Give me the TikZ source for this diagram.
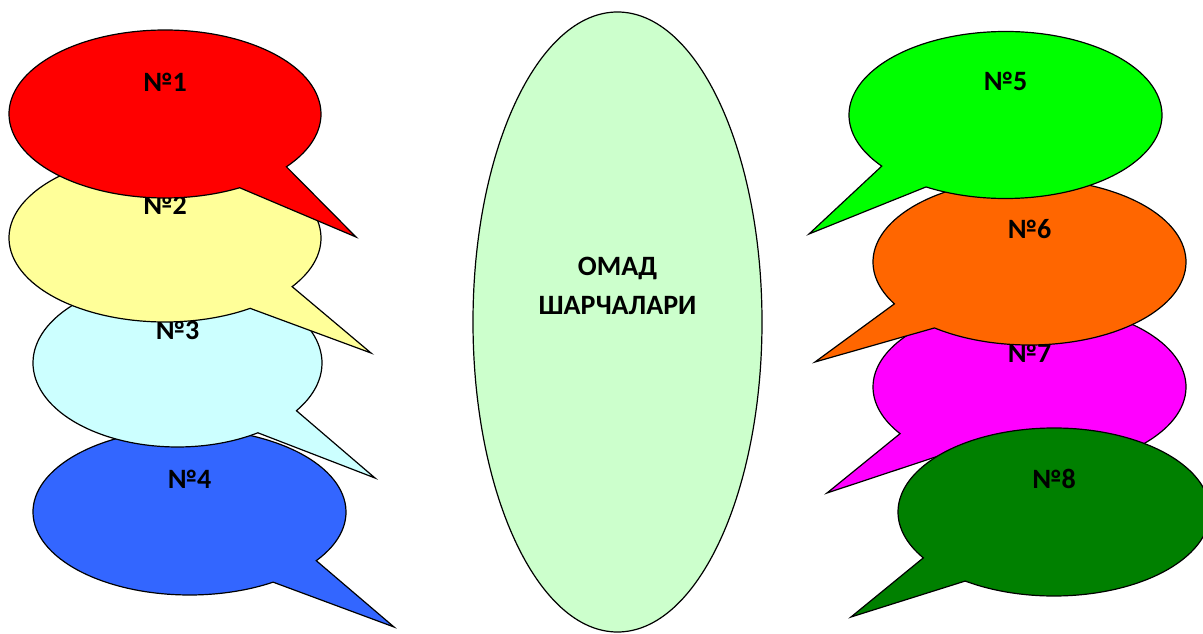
\documentclass[tikz,border=0pt]{standalone}
\usepackage{fontspec}
\setmainfont{Carlito}
\usetikzlibrary{calc}
\definecolor{cRed}{HTML}{FF0000}
\definecolor{cYellow}{HTML}{FFFF99}
\definecolor{cCyan}{HTML}{CCFFFF}
\definecolor{cBlue}{HTML}{3366FF}
\definecolor{cLime}{HTML}{00FF00}
\definecolor{cOrange}{HTML}{FF6600}
\definecolor{cMagenta}{HTML}{FF00FF}
\definecolor{cDarkGreen}{HTML}{008000}
\definecolor{cMint}{HTML}{CCFFCC}
\tikzset{
  outline/.style={draw=black, line width=1.2pt, line join=miter},
  numlabel/.style={font=\fontsize{28}{34}\selectfont\bfseries, anchor=base, inner sep=0pt},
  centerlabel/.style={font=\fontsize{28}{40}\selectfont\bfseries, align=center, anchor=base, inner sep=0pt},
}
% #1 number, #2 centre, #3 rx, #4 ry, #5 start angle, #6 end angle,
% #7 label baseline offset, #8 pointer tip, #9 fill colour
\newcommand\speechbubble[9]{%
  \coordinate (b#1c) at (#2);
  \coordinate (b#1t) at (#8);
  \path[outline, fill=#9] (b#1c) ++(#5:#3 and #4)
     arc[start angle=#5, end angle=#6, x radius=#3, y radius=#4]
     -- (b#1t) -- cycle;
  \node[numlabel] (b#1l) at ([yshift=#7pt]b#1c) {№#1};
}
\begin{document}
\begin{tikzpicture}[x=1pt, y=1pt]
  \useasboundingbox (0,0) rectangle (1203,633);
  \clip (0,0) rectangle (1203,633);
  % centre ellipse
  \coordinate (mc) at (617.5,311);
  \path[outline, fill=cMint] (mc) ellipse[x radius=144.5, y radius=310];
  \node[centerlabel] (mtext) at ([yshift=7pt]mc) {ОМАД\\ШАРЧАЛАРИ};
  % left column
  \speechbubble{4}{189.5,121}{156.5}{83}{-35.9}{302.3}{24}{394,6}{cBlue}
  \speechbubble{3}{177.5,270}{144.5}{84}{-34.6}{303.8}{23}{375,155}{cCyan}
  \speechbubble{2}{165,395}{156}{84}{-35.4}{303.1}{23}{371,280}{cYellow}
  \speechbubble{1}{165,519}{156}{84}{-38.9}{298.6}{22}{356,396}{cRed}
  % right column
  \speechbubble{7}{1029.5,246}{156.5}{83}{235.4}{574.2}{24}{827,140}{cMagenta}
  \speechbubble{6}{1029.5,371}{156.5}{83}{232.6}{570.3}{23}{815,271}{cOrange}
  \speechbubble{5}{1005.5,518}{156.5}{83.5}{239.5}{577.75}{24}{809,399}{cLime}
  \speechbubble{8}{1054,121}{156}{84}{235.3}{573.1}{24}{851,16}{cDarkGreen}
\end{tikzpicture}
\end{document}
